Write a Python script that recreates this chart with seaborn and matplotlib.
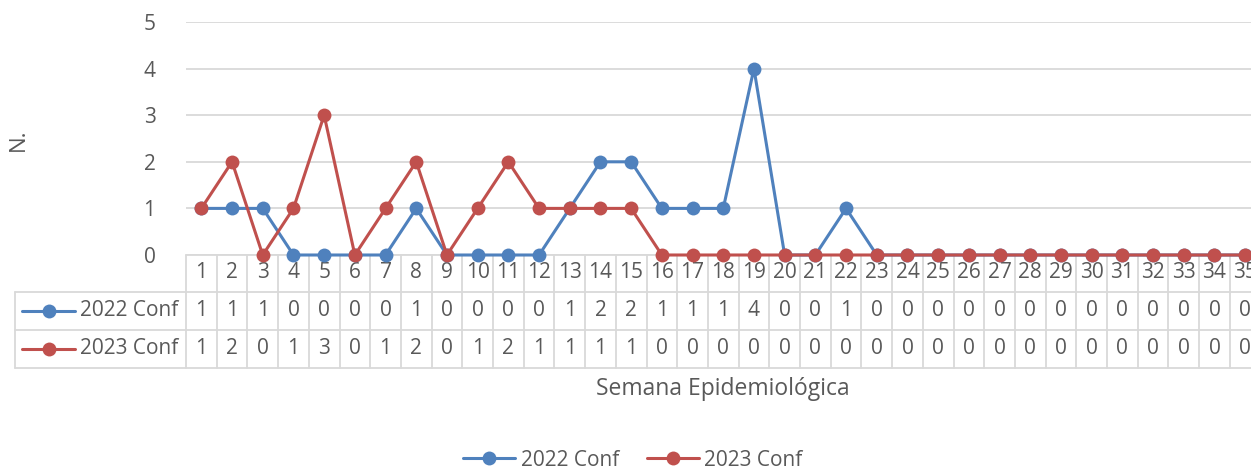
import numpy as np
import pandas as pd
import matplotlib
matplotlib.use("Agg")
import matplotlib.pyplot as plt
import seaborn as sns
from matplotlib.lines import Line2D
from matplotlib.transforms import blended_transform_factory

weeks = list(range(1, 36))
conf_2022 = [1, 1, 1, 0, 0, 0, 0, 1, 0, 0, 0, 0, 1, 2, 2, 1, 1, 1, 4, 0,
             0, 1, 0, 0, 0, 0, 0, 0, 0, 0, 0, 0, 0, 0, 0]
conf_2023 = [1, 2, 0, 1, 3, 0, 1, 2, 0, 1, 2, 1, 1, 1, 1, 0, 0, 0, 0, 0,
             0, 0, 0, 0, 0, 0, 0, 0, 0, 0, 0, 0, 0, 0, 0]
series_names = ["2022 Conf", "2023 Conf"]
colors = ["#4F81BD", "#C0504D"]
y_ticks = [0, 1, 2, 3, 4, 5]
x_title = "Semana Epidemiológica"
y_title = "N."

sns.set_theme(style="white")
plt.rcParams["font.family"] = ["Open Sans", "DejaVu Sans"]
TXT = "#595959"
GRID = "#D9D9D9"
FS = 15

df = pd.DataFrame({
    "week": weeks * 2,
    "value": conf_2022 + conf_2023,
    "series": [series_names[0]] * len(weeks) + [series_names[1]] * len(weeks),
})

W, H = 1251, 470
fig = plt.figure(figsize=(W / 100, H / 100), dpi=100)
L, R, T, B = 186, 1251, 22, 255
ax = fig.add_axes([L / W, 1 - B / H, (R - L) / W, (B - T) / H])

sns.lineplot(data=df, x="week", y="value", hue="series", palette=colors,
             marker="o", markersize=10, markeredgewidth=0, linewidth=2.2,
             ax=ax, legend=False, zorder=5)
for ln in ax.get_lines():
    ln.set_clip_on(False)

colw = 30.7
ax.set_xlim(0.5, 0.5 + (R - L) / colw)
ax.set_ylim(0, 5)
ax.set_yticks(y_ticks)
ax.set_yticklabels([str(v) for v in y_ticks], color=TXT, fontsize=FS)
ax.tick_params(axis="y", length=0, pad=22)
ax.set_xticks([])
ax.set_xlabel("")
ax.set_ylabel("")
for s in ax.spines.values():
    s.set_visible(False)
ax.grid(axis="y", color=GRID, linewidth=1.3)
ax.set_axisbelow(True)

# data table below the plot
tr = blended_transform_factory(ax.transData, fig.transFigure)
def fy(py):
    return 1 - py / H

rows_y = [255, 292, 330, 368]
x_left_data = 0.5
x_right_data = 0.5 + (R - L) / colw
for i in range(len(weeks) + 1):
    xv = i + 0.5
    ax.add_line(Line2D([xv, xv], [fy(255), fy(368)], transform=tr, color=GRID,
                       linewidth=1.3, clip_on=False))
ax.add_line(Line2D([x_left_data, x_right_data], [fy(255), fy(255)], transform=tr,
                   color=GRID, linewidth=1.3, clip_on=False))
for py in rows_y[1:]:
    fig.add_artist(Line2D([15 / W, 1.0], [fy(py), fy(py)], color=GRID, linewidth=1.3))
fig.add_artist(Line2D([15 / W, 15 / W], [fy(292), fy(368)], color=GRID, linewidth=1.3))

for i, w in enumerate(weeks):
    ax.text(w, fy(273), str(w), transform=tr, ha="center", va="center",
            color=TXT, fontsize=FS, clip_on=False)
    ax.text(w, fy(310), str(conf_2022[i]), transform=tr, ha="center", va="center",
            color=TXT, fontsize=FS, clip_on=False)
    ax.text(w, fy(348), str(conf_2023[i]), transform=tr, ha="center", va="center",
            color=TXT, fontsize=FS, clip_on=False)

for name, col, py in zip(series_names, colors, [311, 349]):
    fig.add_artist(Line2D([22 / W, 75 / W], [fy(py), fy(py)], color=col, linewidth=2.2))
    fig.add_artist(Line2D([48.5 / W], [fy(py)], color=col, marker="o",
                          markersize=10, markeredgewidth=0, linestyle="none"))
    fig.text(80 / W, fy(py - 1), name, ha="left", va="center", color=TXT, fontsize=FS)

fig.text(723 / W, fy(389), x_title, ha="center", va="center", color=TXT, fontsize=16.5)
fig.text(18 / W, fy(140), y_title, ha="center", va="center", rotation=90,
         color=TXT, fontsize=16)

handles = [Line2D([], [], color=c, marker="o", markersize=10, markeredgewidth=0,
                  linewidth=2.2) for c in colors]
fig.legend(handles, series_names, loc="center", bbox_to_anchor=(633 / W, fy(460)),
           ncol=2, frameon=False, fontsize=FS, labelcolor=TXT, handlelength=2.5,
           columnspacing=1.35, handletextpad=0.25)

fig.savefig("out.png", dpi=100, facecolor="white")
